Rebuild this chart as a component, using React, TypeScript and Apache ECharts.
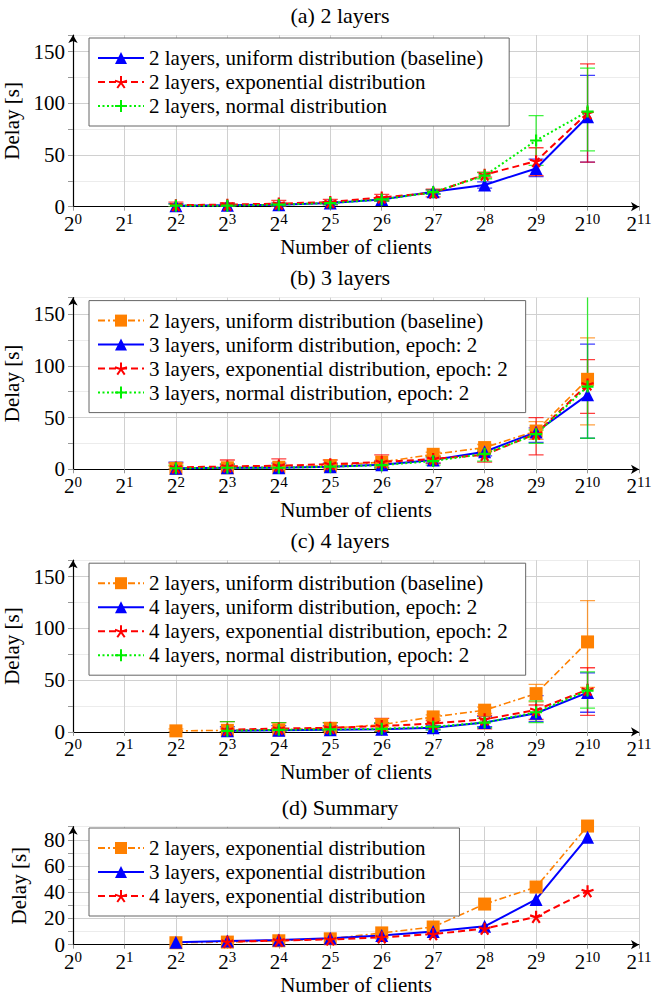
import React, { useEffect, useRef } from 'react';
import * as echarts from 'echarts';

// ---------- data ----------
const clients = [4, 8, 16, 32, 64, 128, 256, 512, 1024];
const xExponents = [0, 1, 2, 3, 4, 5, 6, 7, 8, 9, 10, 11];

// 2 layers
const baseline = [1.0, 1.5, 2.0, 3.5, 7.0, 14.5, 21.0, 37.0, 87.0];
const baselineLo = [0, 0, 0.5, 2, 5.5, 12.5, 18, 29, 43];
const baselineHi = [3, 3, 3.5, 5, 8.5, 16.5, 24, 46, 127];
const twoExp = [1.5, 2.0, 3.0, 4.5, 9.0, 13.5, 31.0, 44.0, 90.5];
const twoExpLo = [0, 0, 0, 2, 6, 9.5, 28.5, 30, 43];
const twoExpHi = [4.5, 4, 6, 7, 12, 17, 33.5, 57, 138];
const twoNorm = [1.0, 1.0, 2.0, 3.5, 7.0, 14.0, 30.0, 64.0, 92.0];
const twoNormLo = [0, 0, 0.5, 2, 5.5, 12, 27, 40, 54];
const twoNormHi = [2.5, 2.5, 3.5, 5, 8.5, 16, 33, 88, 134];

// 3 layers
const threeUni = [1.0, 1.5, 1.5, 2.5, 4.5, 9.0, 17.0, 36.0, 72.0];
const threeUniLo = [0, 0, 0, 0, 2, 6, 13, 26, 30];
const threeUniHi = [7, 5, 6, 6, 8, 11, 20, 40, 121];
const threeExp = [1.8, 2.8, 3.5, 5.0, 7.0, 10.0, 14.0, 34.5, 82.0];
const threeExpLo = [0, 0, 0, 0, 0, 6, 7, 14, 54];
const threeExpHi = [6, 9, 10, 9, 14, 13, 17, 50, 106];
const threeNorm = [1.0, 1.5, 1.5, 2.5, 4.0, 8.0, 15.0, 34.0, 80.0];
const threeNormLo = [0, 0, 0, 0, 1, 4, 8, 25, 30];
const threeNormHi = [4, 5, 4, 5, 7, 12, 19, 38, 175];

// 4 layers
const fourUni = [null, 1.0, 1.5, 2.0, 2.5, 4.0, 9.0, 18.0, 38.0];
const fourUniLo = [null, 0, 0, 0, 0, 2, 5, 10, 19];
const fourUniHi = [null, 5, 6, 6, 8, 6, 15, 35, 57];
const fourExp = [null, 2.2, 3.2, 4.0, 5.6, 8.1, 12.2, 21.3, 40.8];
const fourExpLo = [null, 0, 0, 0, 0, 4, 3, 12, 16];
const fourExpHi = [null, 10, 9, 9, 13, 11, 16, 26, 62];
const fourNorm = [null, 1.0, 2.0, 2.5, 3.0, 5.0, 9.0, 19.0, 40.0];
const fourNormLo = [null, 0, 0, 0, 0, 2, 4, 9, 23];
const fourNormHi = [null, 10, 9, 9, 9, 8, 13, 30, 58];

const panelTitles = ['(a) 2 layers', '(b) 3 layers', '(c) 4 layers', '(d) Summary'];
const yTickLabelsMain = [0, 50, 100, 150];
const yTickLabelsSummary = [0, 20, 40, 60, 80];

// ---------- styles ----------
const FONT = 'Liberation Serif';
const BLUE = '#0000ff';
const RED = '#ff0000';
const GREEN = '#00f000';
const ORANGE = '#ff8000';

const STAR = 'path://M5,5L5,0M5,5L0.245,3.455M5,5L2.061,9.045M5,5L7.939,9.045M5,5L9.755,3.455';
const PLUS = 'path://M5,0L5,10M0,5L10,5';

const styles: Record<string, any> = {
  uni: { color: BLUE, symbol: 'triangle', symbolSize: 13, width: 2, type: 'solid', border: 0 },
  exp: { color: RED, symbol: STAR, symbolSize: 12, width: 2, type: [7, 4], border: 2.2 },
  norm: { color: GREEN, symbol: PLUS, symbolSize: 12, width: 2, type: [2, 2.5], border: 2.2 },
  base: { color: ORANGE, symbol: 'rect', symbolSize: 13, width: 1.6, type: [7, 3, 2, 3], border: 0 },
};

const panels = [
  { top: 35, bottom: 206.7, max: 166, interval: 25, labels: yTickLabelsMain },
  { top: 297.6, bottom: 469.3, max: 166, interval: 25, labels: yTickLabelsMain },
  { top: 560.2, bottom: 731.9, max: 166, interval: 25, labels: yTickLabelsMain },
  { top: 826.7, bottom: 944.7, max: 90, interval: 10, labels: yTickLabelsSummary },
];

const GRID_LEFT = 73;
const GRID_WIDTH = 566;

function toPairs(values: (number | null)[]) {
  const out: number[][] = [];
  values.forEach((v, i) => {
    if (v != null) out.push([Math.log2(clients[i]), v]);
  });
  return out;
}

function lineSeries(name: string, values: (number | null)[], idx: number, key: string) {
  const s = styles[key];
  return {
    type: 'line',
    name,
    xAxisIndex: idx,
    yAxisIndex: idx,
    data: toPairs(values),
    symbol: s.symbol,
    symbolSize: s.symbolSize,
    showAllSymbol: true,
    clip: false,
    lineStyle: { color: s.color, width: s.width, type: s.type },
    itemStyle: { color: s.color, borderColor: s.color, borderWidth: s.border },
    z: 3,
    silent: true,
  };
}

function errSeries(values: (number | null)[], lo: (number | null)[], hi: (number | null)[], idx: number, key: string) {
  const color = styles[key].color;
  const data: number[][] = [];
  values.forEach((v, i) => {
    if (v != null) data.push([Math.log2(clients[i]), lo[i] as number, hi[i] as number]);
  });
  return {
    type: 'custom',
    xAxisIndex: idx,
    yAxisIndex: idx,
    clip: true,
    silent: true,
    z: 2,
    data,
    encode: { x: 0, y: [1, 2] },
    renderItem: (params: any, api: any) => {
      const x = api.value(0);
      const p1 = api.coord([x, api.value(2)]);
      const p2 = api.coord([x, api.value(1)]);
      const w = 7.5;
      const st = { stroke: color, lineWidth: 1.3, opacity: 0.75 };
      return {
        type: 'group',
        children: [
          { type: 'line', shape: { x1: p1[0], y1: p1[1], x2: p2[0], y2: p2[1] }, style: st },
          { type: 'line', shape: { x1: p1[0] - w, y1: p1[1], x2: p1[0] + w, y2: p1[1] }, style: st },
          { type: 'line', shape: { x1: p2[0] - w, y1: p2[1], x2: p2[0] + w, y2: p2[1] }, style: st },
        ],
      };
    },
  };
}

function legendCfg(names: string[], top: number, padRight: number) {
  return {
    data: names,
    orient: 'vertical',
    left: 89,
    top,
    padding: [8, padRight, 8, 8],
    itemGap: 0,
    itemWidth: 46,
    itemHeight: 15,
    backgroundColor: '#fff',
    borderColor: '#666',
    borderWidth: 1,
    borderRadius: 0,
    selectedMode: false,
    formatter: (n: string) => n.slice(3),
    textStyle: { fontFamily: FONT, fontSize: 21, color: '#000', lineHeight: 24 },
  };
}

export default function App() {
  const ref = useRef<HTMLDivElement>(null);
  useEffect(() => {
    document.body.style.margin = '0';
    const chart = echarts.init(ref.current!, undefined, { renderer: 'svg' });

    const grid = panels.map((p) => ({ left: GRID_LEFT, width: GRID_WIDTH, top: p.top, height: p.bottom - p.top, outerBoundsMode: 'none', containLabel: false }));

    const xAxis = panels.map((p, i) => ({
      type: 'value',
      gridIndex: i,
      min: xExponents[0],
      max: xExponents[xExponents.length - 1],
      interval: 1,
      name: 'Number of clients',
      nameLocation: 'middle',
      nameGap: 30,
      nameTextStyle: { fontFamily: FONT, fontSize: 21, color: '#000' },
      axisLine: { show: true, symbol: ['none', 'arrow'], symbolSize: [7, 8], lineStyle: { color: '#000', width: 1.2 } },
      axisTick: { show: true, length: 4, lineStyle: { color: '#999' } },
      splitLine: { show: true, lineStyle: { color: '#d0d0d0', width: 1 } },
      axisLabel: {
        margin: 5,
        formatter: (v: number) => `{b|2}{e|${v}}`,
        rich: {
          b: { fontFamily: FONT, fontSize: 21, color: '#000', lineHeight: 24 },
          e: { fontFamily: FONT, fontSize: 15, color: '#000', verticalAlign: 'top', lineHeight: 12 },
        },
      },
    }));

    const yAxis = panels.map((p, i) => ({
      type: 'value',
      gridIndex: i,
      min: 0,
      max: p.max,
      interval: p.interval,
      name: 'Delay [s]',
      nameLocation: 'middle',
      nameGap: 44,
      nameTextStyle: { fontFamily: FONT, fontSize: 21, color: '#000' },
      axisLine: { show: true, symbol: ['none', 'arrow'], symbolSize: [7, 8], lineStyle: { color: '#000', width: 1.2 } },
      axisTick: { show: true, length: 5, lineStyle: { color: '#999' } },
      splitLine: { show: true, lineStyle: { color: ['#d0d0d0', '#ececec'], width: 1 } },
      axisLabel: {
        margin: 8,
        fontFamily: FONT,
        fontSize: 21,
        color: '#000',
        formatter: (v: number) => (p.labels.includes(v) ? String(v) : ''),
      },
    }));

    const A = ['a: 2 layers, uniform distribution (baseline)', 'a: 2 layers, exponential distribution', 'a: 2 layers, normal distribution'];
    const B = ['b: 2 layers, uniform distribution (baseline)', 'b: 3 layers, uniform distribution, epoch: 2', 'b: 3 layers, exponential distribution, epoch: 2', 'b: 3 layers, normal distribution, epoch: 2'];
    const C = ['c: 2 layers, uniform distribution (baseline)', 'c: 4 layers, uniform distribution, epoch: 2', 'c: 4 layers, exponential distribution, epoch: 2', 'c: 4 layers, normal distribution, epoch: 2'];
    const D = ['d: 2 layers, exponential distribution', 'd: 3 layers, exponential distribution', 'd: 4 layers, exponential distribution'];

    const series: any[] = [
      errSeries(baseline, baselineLo, baselineHi, 0, 'uni'),
      errSeries(twoExp, twoExpLo, twoExpHi, 0, 'exp'),
      errSeries(twoNorm, twoNormLo, twoNormHi, 0, 'norm'),
      lineSeries(A[0], baseline, 0, 'uni'),
      lineSeries(A[1], twoExp, 0, 'exp'),
      lineSeries(A[2], twoNorm, 0, 'norm'),
      errSeries(baseline, baselineLo, baselineHi, 1, 'base'),
      errSeries(threeUni, threeUniLo, threeUniHi, 1, 'uni'),
      errSeries(threeExp, threeExpLo, threeExpHi, 1, 'exp'),
      errSeries(threeNorm, threeNormLo, threeNormHi, 1, 'norm'),
      lineSeries(B[0], baseline, 1, 'base'),
      lineSeries(B[1], threeUni, 1, 'uni'),
      lineSeries(B[2], threeExp, 1, 'exp'),
      lineSeries(B[3], threeNorm, 1, 'norm'),
      errSeries(baseline, baselineLo, baselineHi, 2, 'base'),
      errSeries(fourUni, fourUniLo, fourUniHi, 2, 'uni'),
      errSeries(fourExp, fourExpLo, fourExpHi, 2, 'exp'),
      errSeries(fourNorm, fourNormLo, fourNormHi, 2, 'norm'),
      lineSeries(C[0], baseline, 2, 'base'),
      lineSeries(C[1], fourUni, 2, 'uni'),
      lineSeries(C[2], fourExp, 2, 'exp'),
      lineSeries(C[3], fourNorm, 2, 'norm'),
      lineSeries(D[0], twoExp, 3, 'base'),
      lineSeries(D[1], threeExp, 3, 'uni'),
      lineSeries(D[2], fourExp, 3, 'exp'),
    ];

    const titleY = [15, 277.6, 540.2, 807];
    const graphic = panelTitles.map((t, i) => ({
      type: 'text',
      x: 340,
      y: titleY[i],
      style: { text: t, fontFamily: FONT, fontSize: 22, fill: '#000', textAlign: 'center', textVerticalAlign: 'middle' },
    }));

    chart.setOption({
      animation: false,
      backgroundColor: '#fff',
      grid,
      xAxis,
      yAxis,
      legend: [legendCfg(A, 38, 26), legendCfg(B, 300.6, 18), legendCfg(C, 563.2, 18), legendCfg(D, 828, 34)],
      series,
      graphic,
    });
    return () => chart.dispose();
  }, []);
  return <div ref={ref} style={{ width: 652, height: 996 }} />;
}
